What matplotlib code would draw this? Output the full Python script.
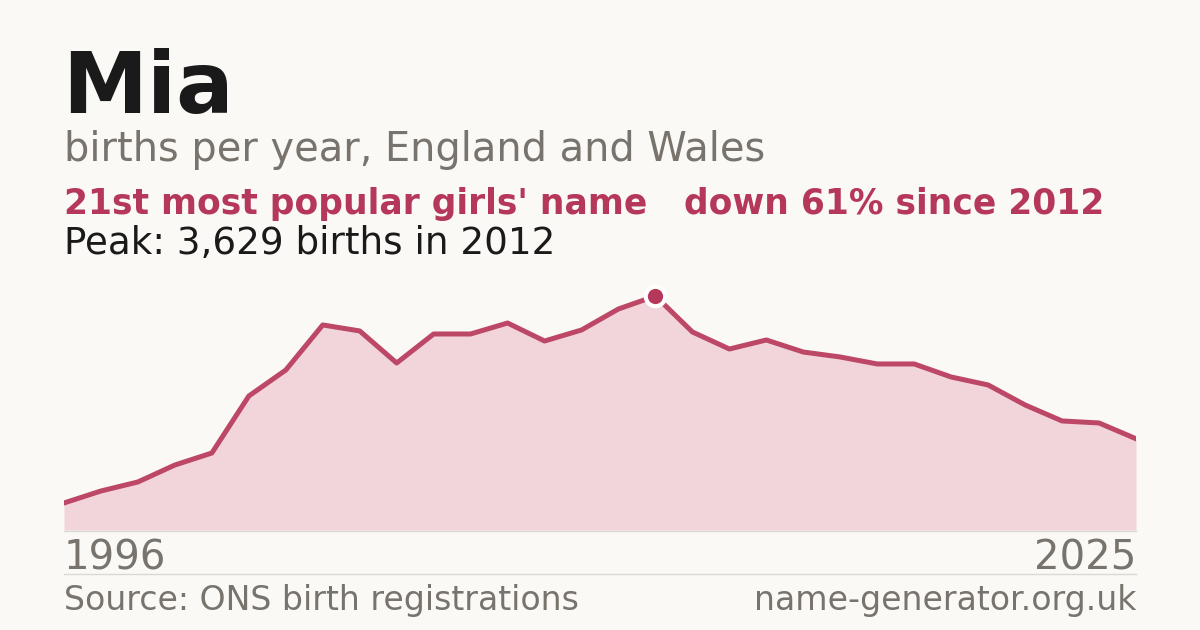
import matplotlib
matplotlib.use("Agg")
import matplotlib.pyplot as plt

years = list(range(1996, 2026))
births = [419, 605, 745, 1008, 1194, 2078, 2481, 3180, 3087, 2590,
          3040, 3040, 3210, 2931, 3102, 3428, 3629, 3071, 2807, 2947,
          2760, 2683, 2575, 2575, 2373, 2249, 1939, 1691, 1660, 1415]

title = "Mia"
subtitle = "births per year, England and Wales"
rank_text = "21st most popular girls' name"
change_text = "down 61% since 2012"
peak_text = "Peak: 3,629 births in 2012"
source_text = "Source: ONS birth registrations"
site_text = "name-generator.org.uk"

BG = "#faf9f5"
RED = "#b5385a"
LINE = "#bd4766"
FILL = "#f1d5da"
GREY = "#78736c"
DARK = "#1a1a1a"
RULE = "#dcd8d2"

W, H = 1200, 630
fig = plt.figure(figsize=(12, 6.3), dpi=100, facecolor=BG)
plt.rcParams['font.family'] = ['DejaVu Sans']

def fx(px):
    return px / W

def fy(py):
    return 1 - py / H

# chart axes: x 64..1136, baseline y=530, top y=280
ax = fig.add_axes([fx(64), fy(530), fx(1136) - fx(64), (530 - 280) / H])
ax.set_facecolor(BG)
ax.patch.set_alpha(0)
peak_i = births.index(max(births))
ax.set_xlim(years[0], years[-1])
ax.set_ylim(0, max(births) * 250 / 234)
ax.fill_between(years, births, 0, color=FILL, lw=0, zorder=1)
ax.plot(years, births, color=LINE, lw=3.6, solid_joinstyle='round', zorder=2)
ax.plot([years[peak_i]], [births[peak_i]], marker='o', ms=14, mfc=RED,
        mec='white', mew=3, zorder=3, clip_on=False)
ax.axis('off')

# baseline and separator rules
fig.add_artist(plt.Line2D([fx(64), fx(1136)], [fy(530.5), fy(530.5)], color=RULE, lw=1, zorder=0))
fig.add_artist(plt.Line2D([fx(64), fx(1136)], [fy(574), fy(574)], color=RULE, lw=1))

fig.text(fx(62), fy(113), title, fontsize=61.5, fontweight='bold', color=DARK, va='baseline', ha='left')
fig.text(fx(64), fy(161), subtitle, fontsize=28.7, color=GREY, va='baseline', ha='left')
fig.text(fx(64), fy(214), rank_text, fontsize=24.85, fontweight='bold', color=RED, va='baseline', ha='left')
fig.text(fx(1104), fy(214), change_text, fontsize=24.85, fontweight='bold', color=RED, va='baseline', ha='right')
fig.text(fx(64), fy(254), peak_text, fontsize=26.8, color=DARK, va='baseline', ha='left')

fig.text(fx(64), fy(569), str(years[0]), fontsize=28.9, color=GREY, va='baseline', ha='left')
fig.text(fx(1136), fy(569), str(years[-1]), fontsize=28.9, color=GREY, va='baseline', ha='right')
fig.text(fx(64), fy(610), source_text, fontsize=23.9, color=GREY, va='baseline', ha='left')
fig.text(fx(1136), fy(610), site_text, fontsize=23.9, color=GREY, va='baseline', ha='right')

fig.savefig("out.png", dpi=100, facecolor=BG)
